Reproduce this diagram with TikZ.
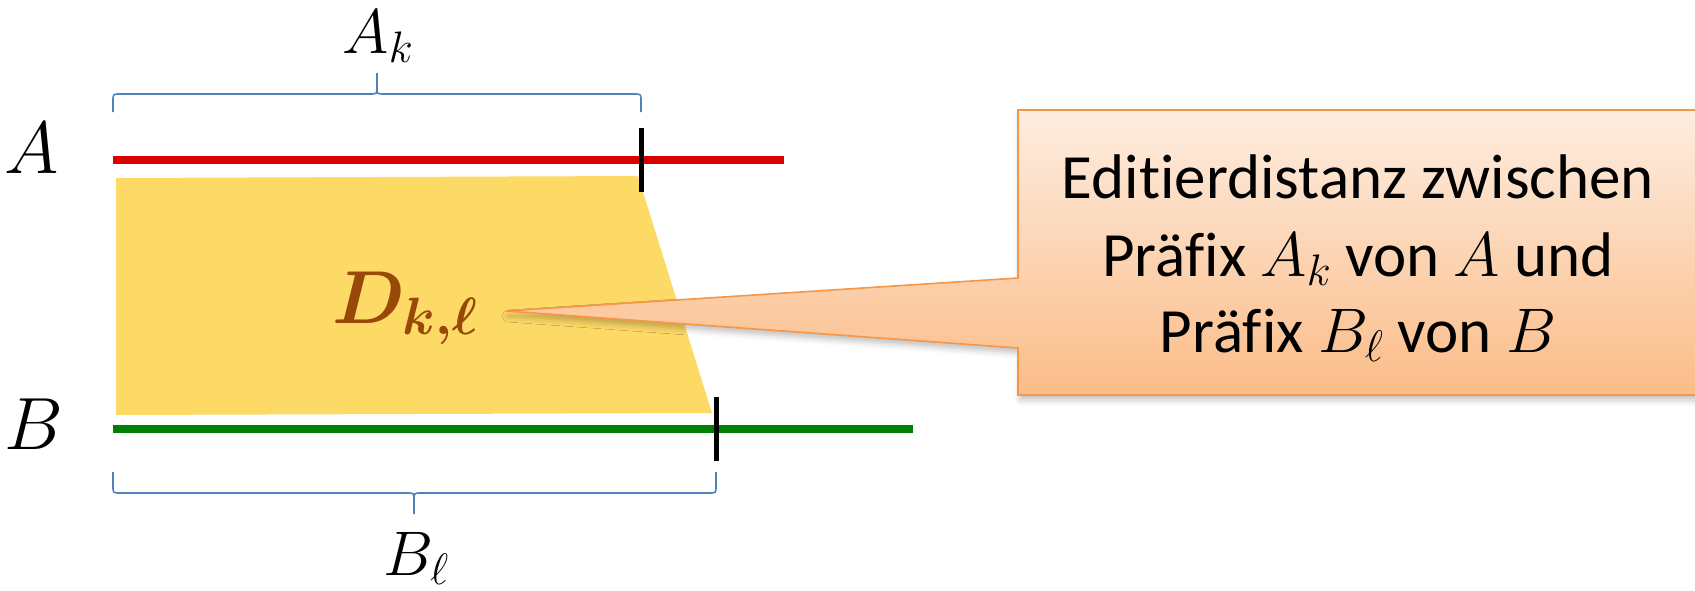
\RequirePackage{fix-cm}
\documentclass[tikz,border=0pt]{standalone}
\usepackage{fontspec}
\setmainfont[Ligatures=NoCommon]{Carlito}
\usepackage{bm}
\usetikzlibrary{shadows.blur}

\definecolor{seqA}{RGB}{217,0,0}
\definecolor{seqB}{RGB}{0,128,0}
\definecolor{area}{RGB}{253,217,102}
\definecolor{bracecol}{RGB}{79,129,189}
\definecolor{dcol}{RGB}{152,72,7}
\definecolor{calltop}{RGB}{253,237,224}
\definecolor{callbot}{RGB}{251,188,136}
\definecolor{callline}{RGB}{247,150,70}

\begin{document}
\begin{tikzpicture}[x=1pt,y=-1pt,
  seqline/.style={line width=8pt},
  cut/.style={line width=5pt, black},
  bracepath/.style={draw=bracecol, line width=1.6pt},
  strlabel/.style={inner sep=0pt, anchor=base, font=\fontsize{74}{74}\selectfont},
  prelabel/.style={inner sep=0pt, anchor=base, font=\fontsize{63}{63}\selectfont},
  dlabel/.style={inner sep=0pt, anchor=base, text=dcol, font=\fontsize{75}{75}\selectfont},
  calltext/.style={inner sep=0pt, anchor=base, font=\fontsize{63}{77}\selectfont},
  callshape/.style={draw=callline, line width=1.6pt, top color=calltop, bottom color=callbot,
    blur shadow={shadow xshift=2pt, shadow yshift=-5pt, shadow blur radius=6pt, shadow opacity=25}}
]
\useasboundingbox (0,0) rectangle (1695,590);

% end points of the two strings and of their prefixes
\coordinate (a0) at (113,160);
\coordinate (a1) at (784,160);
\coordinate (ak) at (641,160);
\coordinate (b0) at (113,429);
\coordinate (b1) at (913,429);
\coordinate (bl) at (716,429);

% table region D_{k,l}
\fill[area] (116,178) -- (638,176) -- (712,413) -- (116,415) -- cycle;

% the strings A and B
\draw[seqline, seqA] (a0) -- (a1);
\draw[seqline, seqB] (b0) -- (b1);
\draw[cut] ([yshift=-32pt]ak) -- ([yshift=32pt]ak);
\draw[cut] ([yshift=-32pt]bl) -- ([yshift=32pt]bl);

\node[strlabel] (labA) at (32,173) {$A$};
\node[strlabel] (labB) at (34,449) {$B$};

% brace over the prefix A_k
\draw[bracepath] (113,112) -- (113,101) .. controls (113,94) .. (120,94) -- (370,94)
  .. controls (377,94) .. (377,87) -- (377,73)
  -- (377,87) .. controls (377,94) .. (384,94) -- (634,94)
  .. controls (641,94) .. (641,101) -- (641,112);
\node[prelabel] (Ak) at (378,53) {$A_k$};

% brace under the prefix B_l
\draw[bracepath] (113,472) -- (113,486) .. controls (113,493) .. (120,493) -- (407,493)
  .. controls (414,493) .. (414,500) -- (414,514)
  -- (414,500) .. controls (414,493) .. (421,493) -- (709,493)
  .. controls (716,493) .. (716,486) -- (716,472);
\node[prelabel] (Bl) at (416,575) {$B_\ell$};

% D_{k,l}
\node[dlabel] (D) at (405,323) {$\bm{D_{k,\ell}}$};

% callout
\coordinate (tip) at (506,311);
\coordinate (c1) at (1018,278);
\coordinate (c2) at (1018,110);
\coordinate (c3) at (1730,110);
\coordinate (c4) at (1730,395);
\coordinate (c5) at (1018,395);
\coordinate (c6) at (1018,348);
\path[callshape] (tip) -- (c1) -- (c2) -- (c3) -- (c4) -- (c5) -- (c6) -- cycle;

\node[calltext] (t1) at (1358,198) {Editierdistanz zwischen};
\node[calltext] (t2) at (1358,276) {Präfix $A_k$ von $A$ und};
\node[calltext] (t3) at (1358,352) {Präfix $B_\ell$ von $B$};
\end{tikzpicture}
\end{document}
